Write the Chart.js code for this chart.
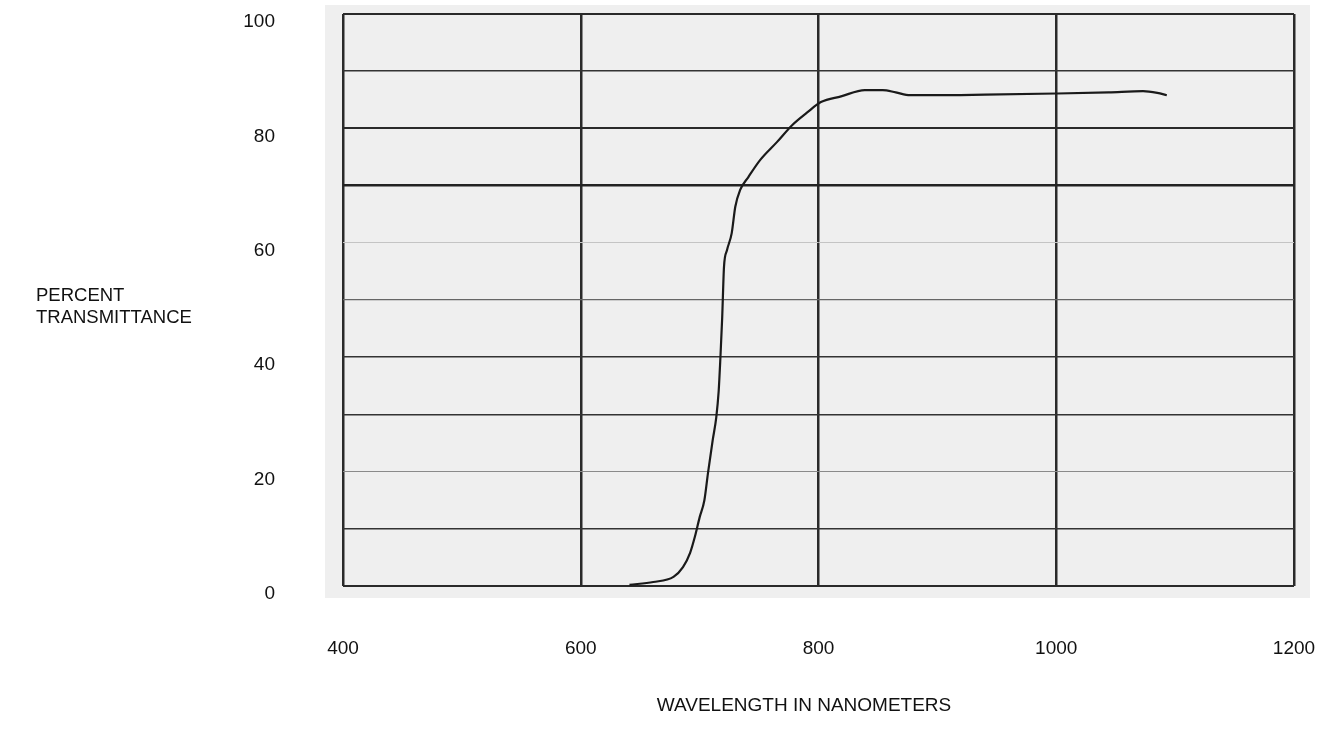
<!DOCTYPE html>
<html>
<head>
<meta charset="utf-8">
<script src="https://cdn.jsdelivr.net/npm/chart.js@4/dist/chart.umd.min.js"></script>
<style>
  body { margin: 0; background: #fff; }
  #wrap { position: relative; width: 1325px; height: 746px; }
  .titulo {
    position: absolute; color: #111; white-space: nowrap;
    font-family: "Liberation Sans", Arial, sans-serif; font-size: 18.5px;
  }
  #yTitle { left: 36px; top: 284px; line-height: 22px; }
  #xTitle { left: 804px; top: 694px; transform: translateX(-50%); font-size: 19px; }
</style>
</head>
<body>
<div id="wrap">
  <canvas id="grafica"></canvas>
  <div id="yTitle" class="titulo">PERCENT<br>TRANSMITTANCE</div>
  <div id="xTitle" class="titulo">WAVELENGTH IN NANOMETERS</div>
</div>
<script>
// --- Datos ---
const longitudes = [641, 661, 678, 686, 692, 696, 700, 704, 707, 711, 714, 716, 717.5, 719, 720.5, 723, 727, 730, 734, 741, 751, 765, 778, 790, 802, 819, 839, 854, 865, 877, 897, 940, 1000, 1044, 1073, 1085, 1093];
const transmitancia = [0.2, 0.7, 1.6, 3.3, 5.8, 8.6, 12, 15, 19.7, 25.5, 29.5, 34, 40, 47, 55.8, 58.7, 61.7, 66.3, 69.2, 71.5, 74.5, 77.6, 80.6, 82.7, 84.6, 85.6, 86.7, 86.7, 86.3, 85.8, 85.8, 85.9, 86.1, 86.3, 86.5, 86.2, 85.8];

const ticksX = [400, 600, 800, 1000, 1200];
const ticksY = [0, 20, 40, 60, 80, 100];

const fuente = '"Liberation Sans", Arial, sans-serif';

// estilo de cada línea horizontal (el papel tiene trazos desiguales)
function estiloLineaY(v) {
    if (v === 60) return { color: '#c4c4c4', width: 1 };
    if (v === 20) return { color: '#8a8a8a', width: 1 };
    if (v === 50) return { color: '#666', width: 1.3 };
    if (v === 70) return { color: '#222', width: 2.5 };
    if (v === 100 || v === 80 || v === 0) return { color: '#2a2a2a', width: 2 };
    return { color: '#333', width: 1.5 };
}

// fondo gris del papel escaneado
const fondoPapel = {
    id: 'fondoPapel',
    beforeDraw(chart) {
        const { ctx, chartArea: a } = chart;
        ctx.save();
        ctx.fillStyle = '#efefef';
        ctx.fillRect(a.left - 18, a.top - 9, a.right - a.left + 34, a.bottom - a.top + 21);
        ctx.restore();
    }
};

const puntos = longitudes.map((x, i) => ({ x: x, y: transmitancia[i] }));

new Chart(document.getElementById('grafica'), {
    type: 'line',
    data: {
        datasets: [{
            data: puntos,
            borderColor: '#1a1a1a',
            borderWidth: 2.2,
            pointRadius: 0,
            fill: false,
            cubicInterpolationMode: 'monotone'
        }]
    },
    options: {
        responsive: true,
        maintainAspectRatio: false,
        animation: false,
        layout: { padding: { top: 14, right: 31, left: 0, bottom: 0 } },
        plugins: { legend: { display: false }, tooltip: { enabled: false } },
        scales: {
            x: {
                type: 'linear',
                min: ticksX[0],
                max: ticksX[ticksX.length - 1],
                afterBuildTicks: s => { s.ticks = ticksX.map(v => ({ value: v })); },
                afterFit: s => { s.height = 160; s.paddingLeft = 0; s.paddingRight = 0; },
                border: { display: false },
                grid: { color: '#2a2a2a', lineWidth: 2.5, drawTicks: false },
                ticks: {
                    padding: 51,
                    color: '#111',
                    font: { family: fuente, size: 19 },
                    maxRotation: 0,
                    callback: v => String(v)
                }
            },
            y: {
                min: 0,
                max: 100,
                afterFit: s => { s.width = 343; s.paddingTop = 0; s.paddingBottom = 0; },
                border: { display: false },
                grid: {
                    drawTicks: false,
                    color: c => estiloLineaY(c.tick.value).color,
                    lineWidth: c => estiloLineaY(c.tick.value).width
                },
                ticks: {
                    stepSize: 10,
                    padding: 68,
                    labelOffset: 8,
                    color: '#111',
                    font: { family: fuente, size: 19 },
                    callback: v => ticksY.includes(v) ? String(v) : ''
                }
            }
        }
    },
    plugins: [fondoPapel]
});
</script>
</body>
</html>
